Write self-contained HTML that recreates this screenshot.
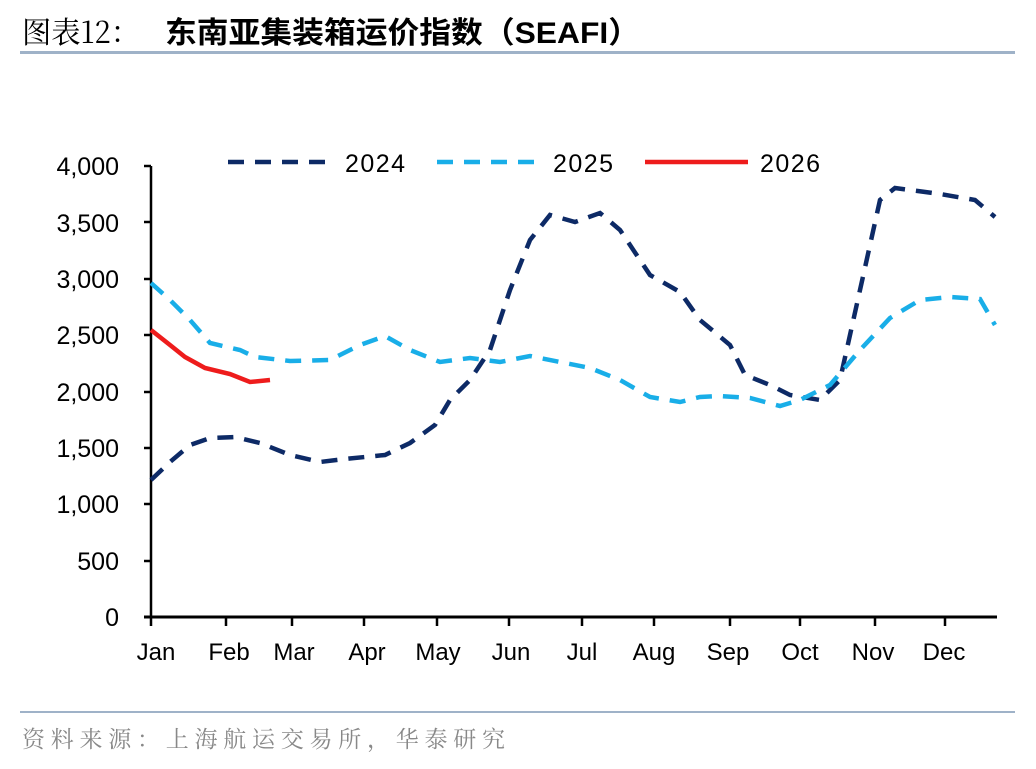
<!DOCTYPE html><html><head><meta charset="utf-8"><style>
body{margin:0;width:1036px;height:764px;background:#fff;overflow:hidden;font-family:"Liberation Sans","Noto Sans CJK SC",sans-serif}
</style></head><body>
<svg width="1036" height="764" xmlns="http://www.w3.org/2000/svg">
<text x="22" y="43" font-family="'Noto Serif CJK SC',serif" font-size="30" fill="#000" textLength="118" lengthAdjust="spacingAndGlyphs">图表12：</text>
<text x="165" y="43" font-family="'Liberation Sans','Noto Sans CJK SC',sans-serif" font-weight="bold" font-size="30" fill="#000" textLength="475" lengthAdjust="spacingAndGlyphs">东南亚集装箱运价指数（SEAFI）</text>
<rect x="20" y="51" width="995" height="3" fill="#9fb2c8"/>
<rect x="20" y="711" width="995" height="2" fill="#9fb2c8"/>
<text x="22" y="747" font-family="'Noto Serif CJK SC',serif" font-size="23" fill="#888" textLength="483" lengthAdjust="spacing">资料来源：上海航运交易所，华泰研究</text>
<g font-size="25" fill="#000" text-anchor="end">
<text x="119" y="626">0</text><text x="119" y="570">500</text><text x="119" y="513">1,000</text><text x="119" y="457">1,500</text><text x="119" y="401">2,000</text><text x="119" y="344">2,500</text><text x="119" y="288">3,000</text><text x="119" y="232">3,500</text><text x="119" y="175">4,000</text>
</g>
<g stroke="#000" stroke-width="2.5">
<line x1="151" y1="166" x2="151" y2="618"/><line x1="144" y1="166" x2="151" y2="166"/><line x1="144" y1="222" x2="151" y2="222"/><line x1="144" y1="279" x2="151" y2="279"/><line x1="144" y1="335" x2="151" y2="335"/><line x1="144" y1="392" x2="151" y2="392"/><line x1="144" y1="448" x2="151" y2="448"/><line x1="144" y1="504" x2="151" y2="504"/><line x1="144" y1="561" x2="151" y2="561"/>
<line x1="144" y1="617" x2="997" y2="617" stroke-width="3"/>
<path d="M151 617v9M226 617v9M292 617v9M364 617v9M437 617v9M509 617v9M582 617v9M654 617v9M730 617v9M800 617v9M875 617v9M945 617v9"/>
</g>
<g font-size="24" fill="#000" text-anchor="middle">
<text x="156" y="660">Jan</text><text x="229" y="660">Feb</text><text x="294" y="660">Mar</text><text x="367" y="660">Apr</text><text x="438" y="660">May</text><text x="511" y="660">Jun</text><text x="582" y="660">Jul</text><text x="654" y="660">Aug</text><text x="728" y="660">Sep</text><text x="800" y="660">Oct</text><text x="873" y="660">Nov</text><text x="944" y="660">Dec</text>
</g>
<g fill="none" stroke-width="4.5">
<polyline stroke="#0d2a66" stroke-dasharray="16,11" points="151,480 170,462 190,445 210,438 235,437 260,443 290,455 320,462 345,459 385,455 410,443 435,425 450,400 470,380 490,350 510,290 530,240 550,215 575,222 600,213 620,230 650,275 680,292 700,320 730,345 745,375 770,385 790,395 820,400 840,380 860,290 880,200 895,188 940,194 975,200 995,217"/>
<polyline stroke="#19aee8" stroke-dasharray="16,11" points="151,283 170,300 190,320 210,343 240,350 255,357 290,361 330,360 360,345 385,336 410,350 440,362 470,358 500,362 530,356 560,362 590,368 620,380 650,397 680,402 700,397 720,396 750,398 780,406 800,400 830,385 860,350 890,318 920,300 950,297 980,299 995,325"/>
<polyline stroke="#ee1c1c" points="151,330 170,345 185,357 205,368 230,374 250,382 270,380"/>
<line x1="228" y1="162" x2="335" y2="162" stroke="#0d2a66" stroke-dasharray="16,11"/>
<line x1="437" y1="162" x2="545" y2="162" stroke="#19aee8" stroke-dasharray="16,11"/>
<line x1="645" y1="162" x2="748" y2="162" stroke="#ee1c1c"/>
</g>
<g font-size="25" fill="#000"><text x="345" y="172" textLength="60">2024</text><text x="553" y="172" textLength="60">2025</text><text x="760" y="172" textLength="60">2026</text></g>
</svg></body></html>
